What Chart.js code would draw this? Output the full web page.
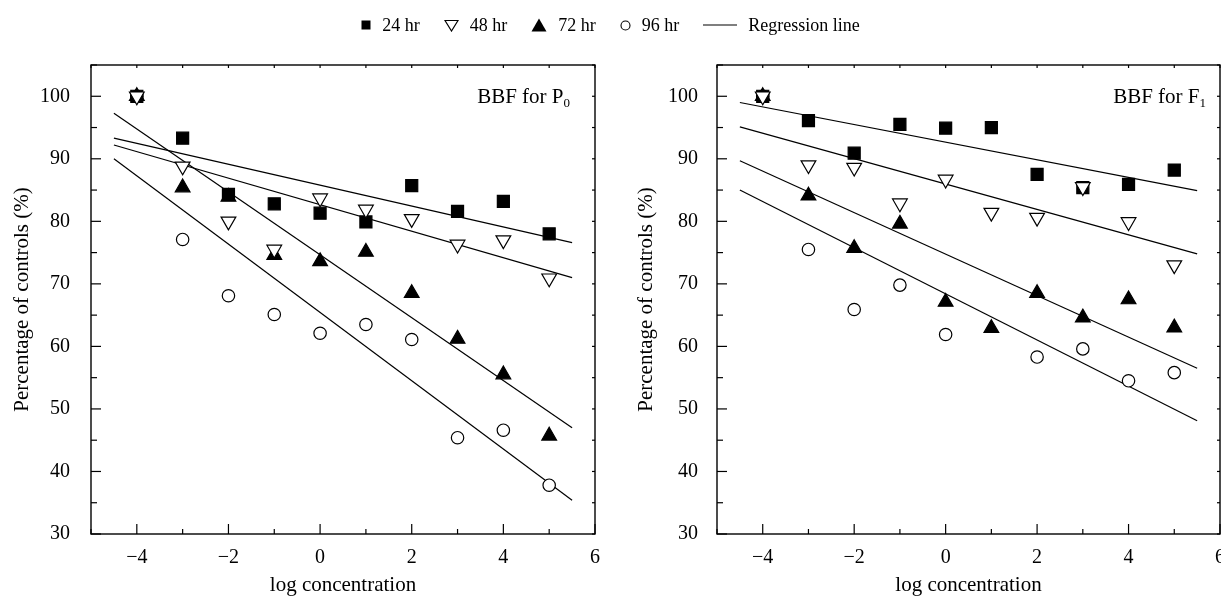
<!DOCTYPE html>
<html>
<head>
<meta charset="utf-8">
<script src="https://cdn.jsdelivr.net/npm/chart.js@4.4.1/dist/chart.umd.min.js"></script>
<style>
  html, body { margin: 0; padding: 0; background: #fff; overflow: hidden; }
  body { width: 1221px; height: 596px; position: relative; font-family: 'Liberation Serif', 'Times New Roman', serif; }
  #chartP0 { position: absolute; left: 0; top: 0; }
  #chartF1 { position: absolute; left: 610px; top: 0; }
  .legend { position: absolute; left: 0; top: 12px; width: 1221px; height: 26px;
            display: flex; justify-content: center; align-items: center; font-size: 18px; color: #000; }
  .legend .item { display: flex; align-items: center; margin: 0 12px; }
  .legend svg { margin-right: 11px; }
</style>
</head>
<body>
<canvas id="chartP0" width="610" height="596"></canvas>
<canvas id="chartF1" width="622" height="596"></canvas>
<div class="legend">
  <div class="item"><svg width="10" height="10"><rect x="0.5" y="0.5" width="9" height="9" fill="#000"/></svg>24 hr</div>
  <div class="item"><svg width="15" height="13"><polygon points="1,1.5 14,1.5 7.5,12" fill="#fff" stroke="#000" stroke-width="1.2"/></svg>48 hr</div>
  <div class="item"><svg width="16" height="14"><polygon points="8,0.5 15.5,13.5 0.5,13.5" fill="#000"/></svg>72 hr</div>
  <div class="item"><svg width="11" height="11"><circle cx="5.5" cy="5.5" r="4.5" fill="none" stroke="#000" stroke-width="1.1"/></svg>96 hr</div>
  <div class="item"><svg width="34" height="4"><line x1="0" y1="2" x2="34" y2="2" stroke="#000" stroke-width="1.2"/></svg>Regression line</div>
</div>
<script>
// Valores
const logConc = [-4, -3, -2, -1, 0, 1, 2, 3, 4, 5];

const p0_24 = [100, 93.3, 84.3, 82.8, 81.3, 79.9, 85.7, 81.6, 83.2, 78.0];
const p0_48 = [100, 88.8, 80.0, 75.5, 83.7, 81.9, 80.4, 76.3, 77.0, 70.9];
const p0_72 = [100, 85.4, 83.9, 74.6, 73.6, 75.1, 68.5, 61.2, 55.5, 45.7];
const p0_96 = [100, 77.1, 68.1, 65.1, 62.1, 63.5, 61.1, 45.4, 46.6, 37.8];

const f1_24 = [100, 96.1, 90.9, 95.5, 94.9, 95.0, 87.5, 85.4, 85.9, 88.2];
const f1_48 = [100, 89.0, 88.6, 82.9, 86.7, 81.4, 80.6, 85.5, 79.9, 73.0];
const f1_72 = [100, 84.1, 75.7, 79.6, 67.1, 62.9, 68.5, 64.6, 67.5, 63.0];
const f1_96 = [100, 75.5, 65.9, 69.8, 61.9, null, 58.3, 59.6, 54.5, 55.8];

// Retas de regressão (extremos em x = -4.5 e 5.5)
const regX = [-4.5, 5.5];
const p0Reg24 = [93.3, 76.6];
const p0Reg48 = [92.2, 71.0];
const p0Reg72 = [97.3, 47.0];
const p0Reg96 = [90.0, 35.4];
const f1Reg24 = [99.0, 84.9];
const f1Reg48 = [95.1, 74.8];
const f1Reg72 = [89.7, 56.5];
const f1Reg96 = [85.0, 48.1];

const xTicks = [-4, -2, 0, 2, 4, 6];
const xMinor = [-5, -3, -1, 1, 3, 5];
const yTicks = [30, 40, 50, 60, 70, 80, 90, 100];
const yMinor = [35, 45, 55, 65, 75, 85, 95, 105];

Chart.defaults.font.family = "'Liberation Serif', 'Times New Roman', serif";
Chart.defaults.color = '#000';

function pontos(valores) {
    return logConc.map((x, i) => ({ x: x, y: valores[i] }));
}

function reta(valores) {
    return regX.map((x, i) => ({ x: x, y: valores[i] }));
}

function formatarTick(v) {
    return v < 0 ? '\u2212' + Math.abs(v) : String(v);
}

// moldura + ticks internos nos quatro lados
const molduraTicks = {
    id: 'molduraTicks',
    afterDatasetsDraw(chart) {
        const { ctx, chartArea: a, scales: { x, y } } = chart;
        const seg = (x1, y1, x2, y2) => { ctx.beginPath(); ctx.moveTo(x1, y1); ctx.lineTo(x2, y2); ctx.stroke(); };
        ctx.save();
        ctx.strokeStyle = '#000';
        ctx.lineWidth = 1.2;
        xTicks.forEach(v => {
            const px = x.getPixelForValue(v);
            seg(px, a.bottom, px, a.bottom - 10);
            seg(px, a.top, px, a.top + 3);
        });
        xMinor.forEach(v => {
            const px = x.getPixelForValue(v);
            seg(px, a.bottom, px, a.bottom - 5);
            seg(px, a.top, px, a.top + 3);
        });
        yTicks.forEach(v => {
            const py = y.getPixelForValue(v);
            seg(a.left, py, a.left + 10, py);
            seg(a.right, py, a.right - 3, py);
        });
        yMinor.forEach(v => {
            const py = y.getPixelForValue(v);
            seg(a.left, py, a.left + 6, py);
            seg(a.right, py, a.right - 3, py);
        });
        ctx.lineWidth = 1.4;
        ctx.strokeRect(a.left, a.top, a.right - a.left, a.bottom - a.top);
        ctx.restore();
    }
};

// rótulo "BBF for P0" com subscrito
const rotuloPainel = {
    id: 'rotuloPainel',
    afterDraw(chart, args, opts) {
        const { ctx, chartArea: a } = chart;
        const fonteMain = "21px 'Liberation Serif', serif";
        const fonteSub = "13px 'Liberation Serif', serif";
        ctx.save();
        ctx.fillStyle = '#000';
        ctx.textBaseline = 'alphabetic';
        ctx.font = fonteSub;
        const wSub = ctx.measureText(opts.sub).width;
        ctx.font = fonteMain;
        const wMain = ctx.measureText(opts.text).width;
        const xEnd = a.right - opts.right;
        ctx.fillText(opts.text, xEnd - wSub - wMain, a.top + 38);
        ctx.font = fonteSub;
        ctx.fillText(opts.sub, xEnd - wSub, a.top + 42);
        ctx.restore();
    }
};

function criarPainel(id, series, regs, cfg) {
    const canvas = document.getElementById(id);
    if (!canvas) return;

    const estilos = [
        { label: '24 hr', pointStyle: 'rect', radius: 8.5, fill: '#000', order: 2 },
        { label: '48 hr', pointStyle: 'triangle', rotation: 180, radius: 8.5, fill: '#fff', order: 0 },
        { label: '72 hr', pointStyle: 'triangle', radius: 8.5, fill: '#000', order: 1 },
        { label: '96 hr', pointStyle: 'circle', radius: 6.2, fill: '#fff', order: 3 }
    ];

    const datasets = [];
    series.forEach((s, i) => {
        const e = estilos[i];
        datasets.push({
            label: e.label,
            data: pontos(s),
            showLine: false,
            pointStyle: e.pointStyle,
            rotation: e.rotation || 0,
            pointRadius: e.radius,
            pointHoverRadius: e.radius,
            pointBackgroundColor: e.fill,
            pointBorderColor: '#000',
            pointBorderWidth: 1.2,
            order: e.order
        });
    });
    regs.forEach((r, i) => {
        datasets.push({
            label: 'Regression line',
            data: reta(r),
            showLine: true,
            borderColor: '#000',
            borderWidth: 1.2,
            pointRadius: 0,
            fill: false,
            order: 10 + i
        });
    });

    try {
        new Chart(canvas, {
            type: 'scatter',
            data: { datasets: datasets },
            options: {
                responsive: false,
                animation: false,
                layout: { padding: { left: 0, top: 65, right: cfg.right, bottom: 0 } },
                plugins: {
                    legend: { display: false },
                    tooltip: { enabled: false },
                    rotuloPainel: { text: cfg.text, sub: cfg.sub, right: cfg.labelRight }
                },
                scales: {
                    x: {
                        type: 'linear',
                        min: -5,
                        max: 6,
                        grid: { display: false },
                        border: { display: false },
                        afterBuildTicks: (scale) => { scale.ticks = xTicks.map(v => ({ value: v })); },
                        afterFit: (scale) => { scale.height = 62; },
                        ticks: {
                            padding: 4,
                            font: { size: 20 },
                            callback: (v) => formatarTick(v)
                        },
                        title: {
                            display: true,
                            text: 'log concentration',
                            font: { size: 21, lineHeight: 1 },
                            padding: { top: 0, bottom: 0 }
                        }
                    },
                    y: {
                        type: 'linear',
                        min: 30,
                        max: 105,
                        grid: { display: false },
                        border: { display: false },
                        afterBuildTicks: (scale) => { scale.ticks = yTicks.map(v => ({ value: v })); },
                        afterFit: (scale) => { scale.width = cfg.axisWidth; },
                        ticks: {
                            padding: cfg.tickPad,
                            font: { size: 20 },
                            callback: (v) => formatarTick(v)
                        },
                        title: {
                            display: true,
                            text: 'Percentage of controls (%)',
                            font: { size: 21 },
                            padding: { top: cfg.titlePad, bottom: 0 }
                        }
                    }
                }
            },
            plugins: [molduraTicks, rotuloPainel]
        });
        console.log('Painel criado: ' + id);
    } catch (error) {
        console.error('Erro no painel ' + id + ':', error);
    }
}

criarPainel('chartP0', [p0_24, p0_48, p0_72, p0_96], [p0Reg24, p0Reg48, p0Reg72, p0Reg96],
    { right: 15, axisWidth: 91, tickPad: 13, titlePad: 10, labelRight: 25, text: 'BBF for P', sub: '0' });
criarPainel('chartF1', [f1_24, f1_48, f1_72, f1_96], [f1Reg24, f1Reg48, f1Reg72, f1Reg96],
    { right: 12, axisWidth: 107, tickPad: 11, titlePad: 24, labelRight: 14, text: 'BBF for F', sub: '1' });
</script>
</body>
</html>
